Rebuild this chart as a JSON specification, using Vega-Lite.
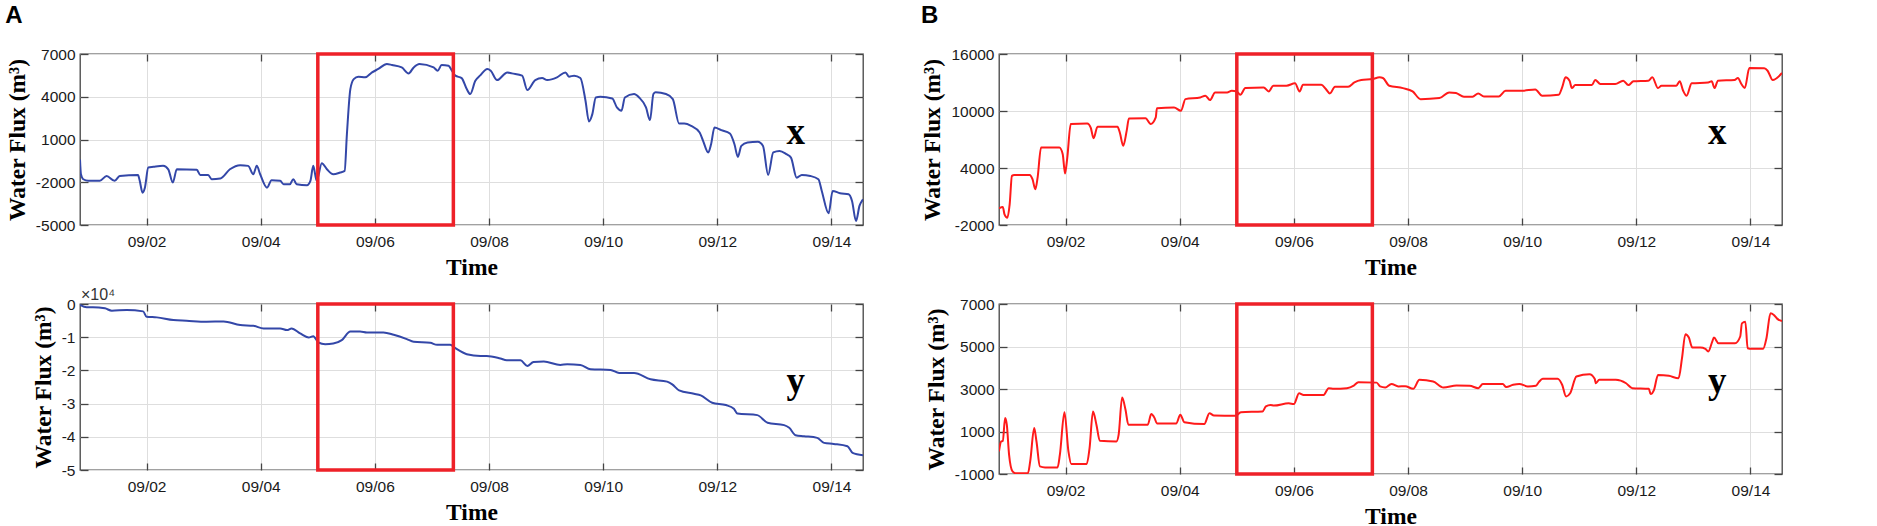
{
"$schema": "https://vega.github.io/schema/vega-lite/v6.json",
"padding": {"left": 4, "top": 3, "right": 5, "bottom": 5},
"background": "white",
"config": {
  "view": {"stroke": "#444444", "strokeWidth": 1.3},
  "axis": {"labelFont": "Liberation Sans", "labelFontSize": 15.5, "labelColor": "#1a1a1a", "titleFont": "Liberation Serif", "titleFontSize": 23.5, "titleFontWeight": "bold", "titleColor": "#000000", "gridColor": "#dedede", "gridWidth": 1, "domain": false, "tickColor": "#444444", "tickWidth": 1.3}
},
"datasets": {
"box": [{"start": "2018-09-05T00:00", "end": "2018-09-07T09:00"}],
"lab": [
 {"panel": "Ax", "time": "2018-09-13T09:00", "flux": 700, "label": "x"},
 {"panel": "Ay", "time": "2018-09-13T09:00", "flux": -26800, "label": "y"},
 {"panel": "Bx", "time": "2018-09-13T10:00", "flux": 6540, "label": "x"},
 {"panel": "By", "time": "2018-09-13T10:00", "flux": 2800, "label": "y"}
],
"exp": [{"time": "2018-08-31T20:00", "flux": 0, "label": "×10⁴"}],
"ax": [
{"time":"2018-08-31T20:00","flux":-400},{"time":"2018-08-31T20:24","flux":-1440},{"time":"2018-08-31T21:22","flux":-1790},{"time":"2018-08-31T23:31","flux":-1900},
{"time":"2018-09-01T04:19","flux":-1900},{"time":"2018-09-01T07:12","flux":-1560},{"time":"2018-09-01T10:34","flux":-1900},{"time":"2018-09-01T12:43","flux":-1560},
{"time":"2018-09-01T20:24","flux":-1490},{"time":"2018-09-01T21:07","flux":-1900},{"time":"2018-09-01T22:19","flux":-2730},{"time":"2018-09-01T23:17","flux":-2380},
{"time":"2018-09-02T00:43","flux":-970},{"time":"2018-09-02T02:53","flux":-920},{"time":"2018-09-02T06:58","flux":-850},{"time":"2018-09-02T09:07","flux":-1090},
{"time":"2018-09-02T11:02","flux":-2020},{"time":"2018-09-02T12:43","flux":-1090},{"time":"2018-09-02T21:07","flux":-1130},{"time":"2018-09-02T22:34","flux":-1490},
{"time":"2018-09-03T01:55","flux":-1490},{"time":"2018-09-03T03:22","flux":-1790},{"time":"2018-09-03T06:58","flux":-1740},{"time":"2018-09-03T11:02","flux":-1090},
{"time":"2018-09-03T15:22","flux":-800},{"time":"2018-09-03T18:43","flux":-850},{"time":"2018-09-03T20:53","flux":-1440},{"time":"2018-09-03T22:19","flux":-850},
{"time":"2018-09-03T23:46","flux":-1440},{"time":"2018-09-04T02:38","flux":-2380},{"time":"2018-09-04T04:34","flux":-1860},{"time":"2018-09-04T08:10","flux":-1900},
{"time":"2018-09-04T09:36","flux":-2140},{"time":"2018-09-04T12:14","flux":-2140},{"time":"2018-09-04T13:41","flux":-1790},{"time":"2018-09-04T15:07","flux":-2140},
{"time":"2018-09-04T19:26","flux":-2210},{"time":"2018-09-04T20:53","flux":-1900},{"time":"2018-09-04T22:05","flux":-850},{"time":"2018-09-04T23:31","flux":-1900},
{"time":"2018-09-05T01:41","flux":-660},{"time":"2018-09-05T03:50","flux":-1090},{"time":"2018-09-05T06:29","flux":-1440},{"time":"2018-09-05T09:22","flux":-1320},
{"time":"2018-09-05T11:17","flux":-1200},{"time":"2018-09-05T12:14","flux":1375},{"time":"2018-09-05T13:41","flux":4540},{"time":"2018-09-05T15:07","flux":5240},
{"time":"2018-09-05T17:02","flux":5410},{"time":"2018-09-05T19:55","flux":5360},{"time":"2018-09-05T22:48","flux":5710},{"time":"2018-09-06T01:26","flux":5950},
{"time":"2018-09-06T05:02","flux":6300},{"time":"2018-09-06T07:12","flux":6230},{"time":"2018-09-06T11:17","flux":6060},{"time":"2018-09-06T14:10","flux":5640},
{"time":"2018-09-06T16:19","flux":6060},{"time":"2018-09-06T18:43","flux":6300},{"time":"2018-09-07T00:43","flux":6060},{"time":"2018-09-07T02:24","flux":5830},
{"time":"2018-09-07T04:05","flux":6230},{"time":"2018-09-07T06:58","flux":6180},{"time":"2018-09-07T08:24","flux":5830},{"time":"2018-09-07T09:50","flux":5480},
{"time":"2018-09-07T12:29","flux":5310},{"time":"2018-09-07T14:38","flux":4540},{"time":"2018-09-07T16:05","flux":4190},{"time":"2018-09-07T18:14","flux":5120},
{"time":"2018-09-07T20:10","flux":5480},{"time":"2018-09-07T23:17","flux":5950},{"time":"2018-09-08T00:43","flux":5830},{"time":"2018-09-08T03:22","flux":5170},
{"time":"2018-09-08T07:41","flux":5710},{"time":"2018-09-08T09:36","flux":5640},{"time":"2018-09-08T13:55","flux":5480},{"time":"2018-09-08T16:05","flux":4470},
{"time":"2018-09-08T19:26","flux":5170},{"time":"2018-09-08T22:19","flux":5310},{"time":"2018-09-09T00:29","flux":5170},{"time":"2018-09-09T04:34","flux":5360},
{"time":"2018-09-09T08:10","flux":5710},{"time":"2018-09-09T09:36","flux":5410},{"time":"2018-09-09T11:46","flux":5480},{"time":"2018-09-09T14:24","flux":5310},
{"time":"2018-09-09T16:34","flux":3720},{"time":"2018-09-09T18:00","flux":2270},{"time":"2018-09-09T19:26","flux":2780},{"time":"2018-09-09T20:53","flux":3950},
{"time":"2018-09-09T22:48","flux":4000},{"time":"2018-09-10T03:50","flux":3880},{"time":"2018-09-10T05:46","flux":3250},{"time":"2018-09-10T07:41","flux":3020},
{"time":"2018-09-10T09:07","flux":3950},{"time":"2018-09-10T12:58","flux":4190},{"time":"2018-09-10T15:07","flux":3950},{"time":"2018-09-10T18:00","flux":3250},
{"time":"2018-09-10T19:41","flux":2360},{"time":"2018-09-10T21:07","flux":4190},{"time":"2018-09-10T22:05","flux":4310},{"time":"2018-09-11T02:24","flux":4190},
{"time":"2018-09-11T05:17","flux":3830},{"time":"2018-09-11T07:55","flux":2120},{"time":"2018-09-11T10:05","flux":2120},{"time":"2018-09-11T12:58","flux":1960},
{"time":"2018-09-11T16:34","flux":1490},{"time":"2018-09-11T18:00","flux":910},{"time":"2018-09-11T20:10","flux":90},{"time":"2018-09-11T21:22","flux":670},
{"time":"2018-09-11T22:48","flux":1840},{"time":"2018-09-12T01:41","flux":1660},{"time":"2018-09-12T05:17","flux":1420},{"time":"2018-09-12T07:12","flux":670},
{"time":"2018-09-12T08:38","flux":-220},{"time":"2018-09-12T10:05","flux":550},{"time":"2018-09-12T12:43","flux":790},{"time":"2018-09-12T17:02","flux":840},
{"time":"2018-09-12T19:12","flux":550},{"time":"2018-09-12T21:22","flux":-1490},{"time":"2018-09-12T23:31","flux":90},{"time":"2018-09-13T02:10","flux":200},
{"time":"2018-09-13T05:02","flux":-30},{"time":"2018-09-13T06:58","flux":-270},{"time":"2018-09-13T09:22","flux":-1680},{"time":"2018-09-13T11:31","flux":-1490},
{"time":"2018-09-13T15:07","flux":-1560},{"time":"2018-09-13T18:29","flux":-1790},{"time":"2018-09-13T19:55","flux":-2610},{"time":"2018-09-13T22:48","flux":-4180},
{"time":"2018-09-14T00:29","flux":-2610},{"time":"2018-09-14T03:36","flux":-2770},{"time":"2018-09-14T07:12","flux":-2840},{"time":"2018-09-14T08:38","flux":-3310},
{"time":"2018-09-14T10:19","flux":-4720},{"time":"2018-09-14T11:46","flux":-3660},{"time":"2018-09-14T12:58","flux":-3270},{"time":"2018-09-14T13:15","flux":-3190}
],
"ay": [
{"time":"2018-08-31T20:00","flux":-300},{"time":"2018-08-31T22:48","flux":-1000},{"time":"2018-09-01T01:26","flux":-1000},{"time":"2018-09-01T06:29","flux":-1310},
{"time":"2018-09-01T09:22","flux":-2020},{"time":"2018-09-01T15:36","flux":-1810},{"time":"2018-09-01T22:34","flux":-2220},{"time":"2018-09-02T00:00","flux":-3830},
{"time":"2018-09-02T04:19","flux":-4030},{"time":"2018-09-02T11:17","flux":-4840},{"time":"2018-09-02T16:48","flux":-5040},{"time":"2018-09-03T01:12","flux":-5340},
{"time":"2018-09-03T08:24","flux":-5240},{"time":"2018-09-03T15:22","flux":-6350},{"time":"2018-09-03T20:53","flux":-6550},{"time":"2018-09-04T01:12","flux":-7360},
{"time":"2018-09-04T08:10","flux":-7360},{"time":"2018-09-04T11:02","flux":-7860},{"time":"2018-09-04T12:58","flux":-7360},{"time":"2018-09-04T16:34","flux":-8870},
{"time":"2018-09-04T20:10","flux":-10080},{"time":"2018-09-04T22:05","flux":-9680},{"time":"2018-09-05T00:14","flux":-11590},{"time":"2018-09-05T03:07","flux":-12100},
{"time":"2018-09-05T06:29","flux":-11900},{"time":"2018-09-05T10:05","flux":-10890},{"time":"2018-09-05T13:41","flux":-8270},{"time":"2018-09-05T17:46","flux":-8270},
{"time":"2018-09-05T20:38","flux":-8570},{"time":"2018-09-06T03:36","flux":-8570},{"time":"2018-09-06T07:55","flux":-9270},{"time":"2018-09-06T13:26","flux":-10580},
{"time":"2018-09-06T16:19","flux":-11390},{"time":"2018-09-06T23:17","flux":-11690},{"time":"2018-09-07T02:10","flux":-12300},{"time":"2018-09-07T07:41","flux":-12300},
{"time":"2018-09-07T09:50","flux":-13310},{"time":"2018-09-07T14:38","flux":-15120},{"time":"2018-09-07T20:24","flux":-15630},{"time":"2018-09-07T23:02","flux":-15630},
{"time":"2018-09-08T04:48","flux":-16430},{"time":"2018-09-08T07:26","flux":-16940},{"time":"2018-09-08T13:12","flux":-16940},{"time":"2018-09-08T16:05","flux":-18650},
{"time":"2018-09-08T18:43","flux":-17440},{"time":"2018-09-08T23:02","flux":-17340},{"time":"2018-09-09T06:00","flux":-18350},{"time":"2018-09-09T08:53","flux":-18150},
{"time":"2018-09-09T14:24","flux":-18350},{"time":"2018-09-09T18:43","flux":-19660},{"time":"2018-09-10T03:07","flux":-19860},{"time":"2018-09-10T06:43","flux":-20770},
{"time":"2018-09-10T12:58","flux":-20770},{"time":"2018-09-10T19:55","flux":-22680},{"time":"2018-09-11T02:53","flux":-23390},{"time":"2018-09-11T05:02","flux":-24190},
{"time":"2018-09-11T07:55","flux":-26010},{"time":"2018-09-11T14:10","flux":-27020},{"time":"2018-09-11T17:02","flux":-27520},{"time":"2018-09-11T21:50","flux":-29740},
{"time":"2018-09-12T03:36","flux":-30440},{"time":"2018-09-12T06:58","flux":-31550},{"time":"2018-09-12T08:24","flux":-32960},{"time":"2018-09-12T16:48","flux":-33470},
{"time":"2018-09-12T21:07","flux":-35790},{"time":"2018-09-13T04:05","flux":-36490},{"time":"2018-09-13T06:14","flux":-37300},{"time":"2018-09-13T08:53","flux":-39520},
{"time":"2018-09-13T12:29","flux":-39820},{"time":"2018-09-13T18:00","flux":-40320},{"time":"2018-09-13T20:53","flux":-41830},{"time":"2018-09-14T00:58","flux":-42140},
{"time":"2018-09-14T06:43","flux":-42840},{"time":"2018-09-14T08:53","flux":-44860},{"time":"2018-09-14T13:15","flux":-45560}
],
"bx": [
{"time":"2018-08-31T20:00","flux":-244},{"time":"2018-08-31T21:36","flux":-100},{"time":"2018-08-31T22:19","flux":-880},{"time":"2018-08-31T23:31","flux":-1230},
{"time":"2018-09-01T00:29","flux":180},{"time":"2018-09-01T01:26","flux":3170},{"time":"2018-09-01T02:24","flux":3270},{"time":"2018-09-01T08:53","flux":3270},
{"time":"2018-09-01T10:05","flux":2820},{"time":"2018-09-01T11:17","flux":1760},{"time":"2018-09-01T12:14","flux":2990},{"time":"2018-09-01T13:41","flux":6160},
{"time":"2018-09-01T21:22","flux":6160},{"time":"2018-09-01T22:48","flux":5450},{"time":"2018-09-01T23:46","flux":3410},{"time":"2018-09-02T00:43","flux":5100},
{"time":"2018-09-02T02:10","flux":8620},{"time":"2018-09-02T09:07","flux":8690},{"time":"2018-09-02T10:34","flux":8260},{"time":"2018-09-02T11:46","flux":7140},
{"time":"2018-09-02T13:26","flux":8340},{"time":"2018-09-02T21:50","flux":8340},{"time":"2018-09-02T22:48","flux":7740},{"time":"2018-09-03T00:14","flux":6330},
{"time":"2018-09-03T01:41","flux":7910},{"time":"2018-09-03T02:38","flux":9210},{"time":"2018-09-03T09:36","flux":9250},{"time":"2018-09-03T11:46","flux":8620},
{"time":"2018-09-03T13:55","flux":9320},{"time":"2018-09-03T14:24","flux":10300},{"time":"2018-09-03T21:36","flux":10370},{"time":"2018-09-04T00:29","flux":10020},
{"time":"2018-09-04T02:24","flux":11250},{"time":"2018-09-04T08:38","flux":11430},{"time":"2018-09-04T10:48","flux":11600},{"time":"2018-09-04T12:43","flux":11150},
{"time":"2018-09-04T14:53","flux":11960},{"time":"2018-09-04T19:55","flux":11960},{"time":"2018-09-04T21:50","flux":12130},{"time":"2018-09-05T00:00","flux":12060},
{"time":"2018-09-05T01:26","flux":11710},{"time":"2018-09-05T03:36","flux":12410},{"time":"2018-09-05T11:17","flux":12480},{"time":"2018-09-05T13:26","flux":12060},
{"time":"2018-09-05T15:22","flux":12660},{"time":"2018-09-05T20:53","flux":12660},{"time":"2018-09-06T00:29","flux":12910},{"time":"2018-09-06T02:24","flux":12060},
{"time":"2018-09-06T03:50","flux":12770},{"time":"2018-09-06T11:31","flux":12770},{"time":"2018-09-06T13:26","flux":12310},{"time":"2018-09-06T15:07","flux":11850},
{"time":"2018-09-06T17:17","flux":12550},{"time":"2018-09-06T22:48","flux":12550},{"time":"2018-09-07T01:26","flux":13010},{"time":"2018-09-07T04:19","flux":13260},
{"time":"2018-09-07T09:07","flux":13360},{"time":"2018-09-07T12:00","flux":13540},{"time":"2018-09-07T13:26","flux":13470},{"time":"2018-09-07T16:05","flux":12660},
{"time":"2018-09-07T21:50","flux":12410},{"time":"2018-09-08T01:55","flux":12060},{"time":"2018-09-08T05:17","flux":11250},{"time":"2018-09-08T13:12","flux":11360},
{"time":"2018-09-08T17:17","flux":11960},{"time":"2018-09-08T20:10","flux":11890},{"time":"2018-09-08T23:31","flux":11500},{"time":"2018-09-09T03:07","flux":11500},
{"time":"2018-09-09T05:31","flux":11850},{"time":"2018-09-09T07:55","flux":11530},{"time":"2018-09-09T14:10","flux":11530},{"time":"2018-09-09T17:02","flux":12130},
{"time":"2018-09-10T00:00","flux":12130},{"time":"2018-09-10T05:31","flux":12270},{"time":"2018-09-10T08:24","flux":11600},{"time":"2018-09-10T15:22","flux":11710},
{"time":"2018-09-10T16:48","flux":12480},{"time":"2018-09-10T18:14","flux":13540},{"time":"2018-09-10T19:55","flux":13190},{"time":"2018-09-10T20:53","flux":12410},
{"time":"2018-09-10T22:19","flux":12730},{"time":"2018-09-11T05:17","flux":12730},{"time":"2018-09-11T06:43","flux":13260},{"time":"2018-09-11T08:53","flux":12840},
{"time":"2018-09-11T15:07","flux":12840},{"time":"2018-09-11T18:29","flux":13190},{"time":"2018-09-11T20:38","flux":12730},{"time":"2018-09-11T22:48","flux":13120},
{"time":"2018-09-12T05:02","flux":13190},{"time":"2018-09-12T06:43","flux":13540},{"time":"2018-09-12T09:07","flux":12410},{"time":"2018-09-12T10:34","flux":12660},
{"time":"2018-09-12T16:48","flux":12660},{"time":"2018-09-12T18:14","flux":13120},{"time":"2018-09-12T19:41","flux":12130},{"time":"2018-09-12T21:07","flux":11600},
{"time":"2018-09-12T23:17","flux":12910},{"time":"2018-09-13T06:14","flux":13010},{"time":"2018-09-13T07:41","flux":13120},{"time":"2018-09-13T08:53","flux":12410},
{"time":"2018-09-13T10:19","flux":13190},{"time":"2018-09-13T17:17","flux":13260},{"time":"2018-09-13T18:43","flux":13470},{"time":"2018-09-13T20:10","flux":12840},
{"time":"2018-09-13T21:36","flux":12410},{"time":"2018-09-13T23:31","flux":14520},{"time":"2018-09-14T05:46","flux":14490},{"time":"2018-09-14T07:12","flux":14240},
{"time":"2018-09-14T09:22","flux":13260},{"time":"2018-09-14T13:15","flux":14000}
],
"by": [
{"time":"2018-08-31T20:00","flux":63},{"time":"2018-08-31T20:53","flux":530},{"time":"2018-08-31T21:36","flux":560},{"time":"2018-08-31T22:34","flux":1630},
{"time":"2018-08-31T23:17","flux":1320},{"time":"2018-09-01T00:14","flux":-90},{"time":"2018-09-01T01:41","flux":-880},{"time":"2018-09-01T02:53","flux":-960},
{"time":"2018-09-01T08:10","flux":-960},{"time":"2018-09-01T09:07","flux":-410},{"time":"2018-09-01T10:48","flux":1160},{"time":"2018-09-01T11:46","flux":530},
{"time":"2018-09-01T13:12","flux":-640},{"time":"2018-09-01T15:22","flux":-690},{"time":"2018-09-01T20:38","flux":-690},{"time":"2018-09-01T21:36","flux":-90},
{"time":"2018-09-01T23:31","flux":1910},{"time":"2018-09-02T01:12","flux":60},{"time":"2018-09-02T02:24","flux":-530},{"time":"2018-09-02T08:53","flux":-530},
{"time":"2018-09-02T10:05","flux":220},{"time":"2018-09-02T11:31","flux":1940},{"time":"2018-09-02T12:58","flux":1320},{"time":"2018-09-02T14:24","flux":560},
{"time":"2018-09-02T21:22","flux":530},{"time":"2018-09-02T22:19","flux":850},{"time":"2018-09-02T23:46","flux":2600},{"time":"2018-09-03T01:12","flux":2020},
{"time":"2018-09-03T02:24","flux":1320},{"time":"2018-09-03T10:34","flux":1320},{"time":"2018-09-03T12:00","flux":1820},{"time":"2018-09-03T13:26","flux":1630},
{"time":"2018-09-03T14:24","flux":1380},{"time":"2018-09-03T22:34","flux":1380},{"time":"2018-09-04T00:14","flux":1790},{"time":"2018-09-04T01:55","flux":1440},
{"time":"2018-09-04T10:19","flux":1350},{"time":"2018-09-04T12:29","flux":1860},{"time":"2018-09-04T14:24","flux":1750},{"time":"2018-09-04T23:31","flux":1740},
{"time":"2018-09-05T01:41","flux":1910},{"time":"2018-09-05T10:48","flux":1940},{"time":"2018-09-05T12:14","flux":2180},{"time":"2018-09-05T14:10","flux":2250},
{"time":"2018-09-05T15:36","flux":2220},{"time":"2018-09-05T21:50","flux":2330},{"time":"2018-09-06T00:00","flux":2290},{"time":"2018-09-06T02:10","flux":2800},
{"time":"2018-09-06T04:05","flux":2720},{"time":"2018-09-06T12:29","flux":2720},{"time":"2018-09-06T14:38","flux":3040},{"time":"2018-09-06T16:48","flux":3010},
{"time":"2018-09-06T22:19","flux":3040},{"time":"2018-09-07T01:12","flux":3160},{"time":"2018-09-07T03:07","flux":3320},{"time":"2018-09-07T10:48","flux":3300},
{"time":"2018-09-07T12:14","flux":3120},{"time":"2018-09-07T14:24","flux":3070},{"time":"2018-09-07T17:02","flux":3240},{"time":"2018-09-07T19:55","flux":3120},
{"time":"2018-09-07T22:48","flux":3130},{"time":"2018-09-08T02:10","flux":3010},{"time":"2018-09-08T04:48","flux":3430},{"time":"2018-09-08T10:34","flux":3350},
{"time":"2018-09-08T14:53","flux":3070},{"time":"2018-09-08T20:24","flux":3160},{"time":"2018-09-09T01:55","flux":3150},{"time":"2018-09-09T05:31","flux":3040},
{"time":"2018-09-09T07:26","flux":3230},{"time":"2018-09-09T15:50","flux":3230},{"time":"2018-09-09T17:17","flux":3090},{"time":"2018-09-09T20:10","flux":3200},
{"time":"2018-09-09T22:48","flux":3240},{"time":"2018-09-10T02:24","flux":3120},{"time":"2018-09-10T05:46","flux":3150},{"time":"2018-09-10T06:58","flux":3320},
{"time":"2018-09-10T08:38","flux":3480},{"time":"2018-09-10T14:53","flux":3480},{"time":"2018-09-10T16:48","flux":3200},{"time":"2018-09-10T18:29","flux":2650},
{"time":"2018-09-10T20:10","flux":2800},{"time":"2018-09-10T22:48","flux":3590},{"time":"2018-09-11T04:19","flux":3700},{"time":"2018-09-11T06:29","flux":3480},
{"time":"2018-09-11T06:58","flux":3270},{"time":"2018-09-11T08:24","flux":3430},{"time":"2018-09-11T15:22","flux":3430},{"time":"2018-09-11T19:41","flux":3270},
{"time":"2018-09-11T22:19","flux":3040},{"time":"2018-09-12T05:17","flux":3010},{"time":"2018-09-12T06:00","flux":2760},{"time":"2018-09-12T07:26","flux":2960},
{"time":"2018-09-12T09:07","flux":3660},{"time":"2018-09-12T13:41","flux":3620},{"time":"2018-09-12T17:46","flux":3510},{"time":"2018-09-12T19:12","flux":4450},
{"time":"2018-09-12T20:38","flux":5580},{"time":"2018-09-12T22:05","flux":5420},{"time":"2018-09-12T23:31","flux":4950},{"time":"2018-09-13T02:53","flux":4950},
{"time":"2018-09-13T05:02","flux":4890},{"time":"2018-09-13T06:14","flux":4760},{"time":"2018-09-13T07:55","flux":5230},{"time":"2018-09-13T08:38","flux":5420},
{"time":"2018-09-13T10:34","flux":5150},{"time":"2018-09-13T17:31","flux":5150},{"time":"2018-09-13T19:41","flux":5470},{"time":"2018-09-13T20:24","flux":6090},
{"time":"2018-09-13T21:50","flux":6170},{"time":"2018-09-13T22:48","flux":4920},{"time":"2018-09-14T00:29","flux":4890},{"time":"2018-09-14T05:17","flux":4890},
{"time":"2018-09-14T06:43","flux":5390},{"time":"2018-09-14T08:24","flux":6560},{"time":"2018-09-14T09:50","flux":6480},{"time":"2018-09-14T11:17","flux":6300},
{"time":"2018-09-14T13:15","flux":6200}
]
},
"columns": 2,
"bounds": "flush",
"spacing": {"row": 79, "column": 136},
"concat": [
{
 "width": 783, "height": 171,
 "title": {"text": "A", "anchor": "start", "frame": "bounds", "font": "Liberation Sans", "fontSize": 24, "fontWeight": "bold", "color": "#000000", "baseline": "alphabetic", "offset": 0},
 "layer": [
  {"data": {"name": "ax"}, "mark": {"type": "line", "color": "#3347a8", "strokeWidth": 2, "clip": true, "interpolate": "monotone"},
   "encoding": {
    "x": {"field": "time", "type": "temporal", "scale": {"domain": [{"year": 2018, "month": 8, "date": 31, "hours": 20}, {"year": 2018, "month": 9, "date": 14, "hours": 13, "minutes": 15}]},
      "axis": {"orient": "bottom", "values": [{"year":2018,"month":9,"date":2},{"year":2018,"month":9,"date":4},{"year":2018,"month":9,"date":6},{"year":2018,"month":9,"date":8},{"year":2018,"month":9,"date":10},{"year":2018,"month":9,"date":12},{"year":2018,"month":9,"date":14}], "format": "%m/%d", "title": "Time", "tickSize": -7, "labelPadding": 16, "titlePadding": 6}},
    "y": {"field": "flux", "type": "quantitative", "scale": {"domain": [-5000, 7000], "nice": false, "zero": false},
      "axis": {"orient": "left", "values": [-5000, -2000, 1000, 4000, 7000], "labelExpr": "'' + datum.value", "title": "Water Flux (m³)", "tickSize": -8, "labelPadding": 13, "titlePadding": 6}}
   }},
  {"data": {"name": "box"}, "mark": {"type": "rect", "filled": false, "stroke": "#ee2128", "strokeWidth": 3.5},
   "encoding": {
    "x": {"field": "start", "type": "temporal", "axis": {"orient": "top", "values": [{"year":2018,"month":9,"date":2},{"year":2018,"month":9,"date":4},{"year":2018,"month":9,"date":6},{"year":2018,"month":9,"date":8},{"year":2018,"month":9,"date":10},{"year":2018,"month":9,"date":12},{"year":2018,"month":9,"date":14}], "labels": false, "grid": false, "title": null, "tickSize": -7}},
    "x2": {"field": "end"},
    "y": {"datum": 7000, "type": "quantitative", "axis": {"orient": "right", "values": [-5000, -2000, 1000, 4000, 7000], "labels": false, "grid": false, "title": null, "tickSize": -8}},
    "y2": {"datum": -5000}
   }},
  {"data": {"name": "lab"}, "transform": [{"filter": "datum.panel == 'Ax'"}],
   "mark": {"type": "text", "font": "Liberation Serif", "fontWeight": "bold", "fontSize": 37, "align": "center", "baseline": "alphabetic", "color": "#000000"},
   "encoding": {"x": {"field": "time", "type": "temporal", "axis": null}, "y": {"field": "flux", "type": "quantitative", "axis": null}, "text": {"field": "label"}}}
 ],
 "resolve": {"axis": {"x": "independent", "y": "independent"}}
},
{
 "width": 783, "height": 171,
 "title": {"text": "B", "anchor": "start", "frame": "bounds", "font": "Liberation Sans", "fontSize": 24, "fontWeight": "bold", "color": "#000000", "baseline": "alphabetic", "offset": 0},
 "layer": [
  {"data": {"name": "bx"}, "mark": {"type": "line", "color": "#ff1a1a", "strokeWidth": 2, "clip": true, "interpolate": "monotone"},
   "encoding": {
    "x": {"field": "time", "type": "temporal", "scale": {"domain": [{"year": 2018, "month": 8, "date": 31, "hours": 20}, {"year": 2018, "month": 9, "date": 14, "hours": 13, "minutes": 15}]},
      "axis": {"orient": "bottom", "values": [{"year":2018,"month":9,"date":2},{"year":2018,"month":9,"date":4},{"year":2018,"month":9,"date":6},{"year":2018,"month":9,"date":8},{"year":2018,"month":9,"date":10},{"year":2018,"month":9,"date":12},{"year":2018,"month":9,"date":14}], "format": "%m/%d", "title": "Time", "tickSize": -7, "labelPadding": 16, "titlePadding": 6}},
    "y": {"field": "flux", "type": "quantitative", "scale": {"domain": [-2000, 16000], "nice": false, "zero": false},
      "axis": {"orient": "left", "values": [-2000, 4000, 10000, 16000], "labelExpr": "'' + datum.value", "title": "Water Flux (m³)", "tickSize": -8, "labelPadding": 13, "titlePadding": 6}}
   }},
  {"data": {"name": "box"}, "mark": {"type": "rect", "filled": false, "stroke": "#ee2128", "strokeWidth": 3.5},
   "encoding": {
    "x": {"field": "start", "type": "temporal", "axis": {"orient": "top", "values": [{"year":2018,"month":9,"date":2},{"year":2018,"month":9,"date":4},{"year":2018,"month":9,"date":6},{"year":2018,"month":9,"date":8},{"year":2018,"month":9,"date":10},{"year":2018,"month":9,"date":12},{"year":2018,"month":9,"date":14}], "labels": false, "grid": false, "title": null, "tickSize": -7}},
    "x2": {"field": "end"},
    "y": {"datum": 16000, "type": "quantitative", "axis": {"orient": "right", "values": [-2000, 4000, 10000, 16000], "labels": false, "grid": false, "title": null, "tickSize": -8}},
    "y2": {"datum": -2000}
   }},
  {"data": {"name": "lab"}, "transform": [{"filter": "datum.panel == 'Bx'"}],
   "mark": {"type": "text", "font": "Liberation Serif", "fontWeight": "bold", "fontSize": 37, "align": "center", "baseline": "alphabetic", "color": "#000000"},
   "encoding": {"x": {"field": "time", "type": "temporal", "axis": null}, "y": {"field": "flux", "type": "quantitative", "axis": null}, "text": {"field": "label"}}}
 ],
 "resolve": {"axis": {"x": "independent", "y": "independent"}}
},
{
 "width": 783, "height": 166,
 "layer": [
  {"data": {"name": "ay"}, "mark": {"type": "line", "color": "#3347a8", "strokeWidth": 2, "clip": true, "interpolate": "monotone"},
   "encoding": {
    "x": {"field": "time", "type": "temporal", "scale": {"domain": [{"year": 2018, "month": 8, "date": 31, "hours": 20}, {"year": 2018, "month": 9, "date": 14, "hours": 13, "minutes": 15}]},
      "axis": {"orient": "bottom", "values": [{"year":2018,"month":9,"date":2},{"year":2018,"month":9,"date":4},{"year":2018,"month":9,"date":6},{"year":2018,"month":9,"date":8},{"year":2018,"month":9,"date":10},{"year":2018,"month":9,"date":12},{"year":2018,"month":9,"date":14}], "format": "%m/%d", "title": "Time", "tickSize": -7, "labelPadding": 16, "titlePadding": 6}},
    "y": {"field": "flux", "type": "quantitative", "scale": {"domain": [-50000, 0], "nice": false, "zero": false},
      "axis": {"orient": "left", "values": [-50000, -40000, -30000, -20000, -10000, 0], "labelExpr": "'' + (datum.value / 10000)", "title": "Water Flux (m³)", "tickSize": -8, "labelPadding": 13, "titlePadding": 6}}
   }},
  {"data": {"name": "box"}, "mark": {"type": "rect", "filled": false, "stroke": "#ee2128", "strokeWidth": 3.5},
   "encoding": {
    "x": {"field": "start", "type": "temporal", "axis": {"orient": "top", "values": [{"year":2018,"month":9,"date":2},{"year":2018,"month":9,"date":4},{"year":2018,"month":9,"date":6},{"year":2018,"month":9,"date":8},{"year":2018,"month":9,"date":10},{"year":2018,"month":9,"date":12},{"year":2018,"month":9,"date":14}], "labels": false, "grid": false, "title": null, "tickSize": -7}},
    "x2": {"field": "end"},
    "y": {"datum": 0, "type": "quantitative", "axis": {"orient": "right", "values": [-50000, -40000, -30000, -20000, -10000, 0], "labels": false, "grid": false, "title": null, "tickSize": -8}},
    "y2": {"datum": -50000}
   }},
  {"data": {"name": "lab"}, "transform": [{"filter": "datum.panel == 'Ay'"}],
   "mark": {"type": "text", "font": "Liberation Serif", "fontWeight": "bold", "fontSize": 37, "align": "center", "baseline": "alphabetic", "color": "#000000"},
   "encoding": {"x": {"field": "time", "type": "temporal", "axis": null}, "y": {"field": "flux", "type": "quantitative", "axis": null}, "text": {"field": "label"}}},
  {"data": {"name": "exp"},
   "mark": {"type": "text", "font": "Liberation Sans", "fontSize": 16, "align": "left", "baseline": "bottom", "dx": 1, "dy": -1, "color": "#333333"},
   "encoding": {"x": {"field": "time", "type": "temporal", "axis": null}, "y": {"field": "flux", "type": "quantitative", "axis": null}, "text": {"field": "label"}}}
 ],
 "resolve": {"axis": {"x": "independent", "y": "independent"}}
},
{
 "width": 783, "height": 170,
 "layer": [
  {"data": {"name": "by"}, "mark": {"type": "line", "color": "#ff1a1a", "strokeWidth": 2, "clip": true, "interpolate": "monotone"},
   "encoding": {
    "x": {"field": "time", "type": "temporal", "scale": {"domain": [{"year": 2018, "month": 8, "date": 31, "hours": 20}, {"year": 2018, "month": 9, "date": 14, "hours": 13, "minutes": 15}]},
      "axis": {"orient": "bottom", "values": [{"year":2018,"month":9,"date":2},{"year":2018,"month":9,"date":4},{"year":2018,"month":9,"date":6},{"year":2018,"month":9,"date":8},{"year":2018,"month":9,"date":10},{"year":2018,"month":9,"date":12},{"year":2018,"month":9,"date":14}], "format": "%m/%d", "title": "Time", "tickSize": -7, "labelPadding": 16, "titlePadding": 6}},
    "y": {"field": "flux", "type": "quantitative", "scale": {"domain": [-1000, 7000], "nice": false, "zero": false},
      "axis": {"orient": "left", "values": [-1000, 1000, 3000, 5000, 7000], "labelExpr": "'' + datum.value", "title": "Water Flux (m³)", "tickSize": -8, "labelPadding": 13, "titlePadding": 6}}
   }},
  {"data": {"name": "box"}, "mark": {"type": "rect", "filled": false, "stroke": "#ee2128", "strokeWidth": 3.5},
   "encoding": {
    "x": {"field": "start", "type": "temporal", "axis": {"orient": "top", "values": [{"year":2018,"month":9,"date":2},{"year":2018,"month":9,"date":4},{"year":2018,"month":9,"date":6},{"year":2018,"month":9,"date":8},{"year":2018,"month":9,"date":10},{"year":2018,"month":9,"date":12},{"year":2018,"month":9,"date":14}], "labels": false, "grid": false, "title": null, "tickSize": -7}},
    "x2": {"field": "end"},
    "y": {"datum": 7000, "type": "quantitative", "axis": {"orient": "right", "values": [-1000, 1000, 3000, 5000, 7000], "labels": false, "grid": false, "title": null, "tickSize": -8}},
    "y2": {"datum": -1000}
   }},
  {"data": {"name": "lab"}, "transform": [{"filter": "datum.panel == 'By'"}],
   "mark": {"type": "text", "font": "Liberation Serif", "fontWeight": "bold", "fontSize": 37, "align": "center", "baseline": "alphabetic", "color": "#000000"},
   "encoding": {"x": {"field": "time", "type": "temporal", "axis": null}, "y": {"field": "flux", "type": "quantitative", "axis": null}, "text": {"field": "label"}}}
 ],
 "resolve": {"axis": {"x": "independent", "y": "independent"}}
}
]
}
